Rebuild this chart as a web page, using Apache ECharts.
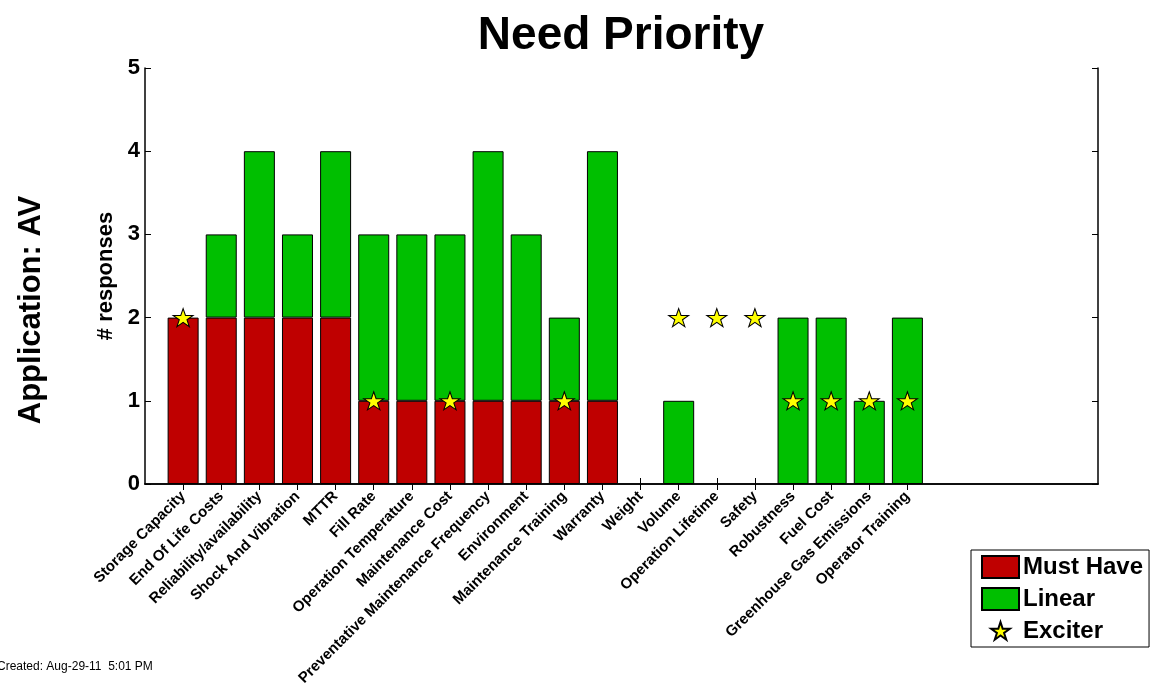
<!DOCTYPE html>
<html>
<head>
	<meta charset="UTF-8" />
	<title>Need Priority</title>
	<style type="text/css">
		* { margin: 0; padding: 0; }
		#main { width: 1152px; height: 687px; background: #fff; }
	</style>
</head>
<body>
	<div id="main"></div>
</body>
<script src="https://cdn.jsdelivr.net/npm/echarts@6/dist/echarts.min.js"></script>
<script type="text/javascript">
	// needs, in the order they are drawn on the x axis (positions 1..20, axis runs 0..25)
	var categories = ['Storage Capacity', 'End Of Life Costs', 'Reliability/availability', 'Shock And Vibration',
		'MTTR', 'Fill Rate', 'Operation Temperature', 'Maintenance Cost', 'Preventative Maintenance Frequency',
		'Environment', 'Maintenance Training', 'Warranty', 'Weight', 'Volume', 'Operation Lifetime', 'Safety',
		'Robustness', 'Fuel Cost', 'Greenhouse Gas Emissions', 'Operator Training']
	var mustHave = [2, 2, 2, 2, 2, 1, 1, 1, 1, 1, 1, 1, 0, 0, 0, 0, 0, 0, 0, 0]
	var linear = [0, 1, 2, 1, 2, 2, 2, 2, 3, 2, 1, 3, 0, 1, 0, 0, 2, 2, 1, 2]
	var exciter = [2, null, null, null, null, 1, null, 1, null, null, 1, null, null, 2, 2, 2, 1, 1, 1, 1]
	var yTicks = [0, 1, 2, 3, 4, 5]

	var font = '"Liberation Sans", Arial, sans-serif'
	var starShape = 'M50 0 L61.23 34.55 L97.55 34.55 L68.16 55.9 L79.39 90.45 L50 69.1 L20.61 90.45 L31.84 55.9 L2.45 34.55 L38.77 34.55 Z'
	var star = 'path://' + starShape
	// same star with some empty room round it, so the legend draws it a bit smaller
	var legendStar = 'path://M-8 -10 M108 102 ' + starShape

	// one empty slot before the first need and five after the last one
	var axisData = [''].concat(categories, ['', '', '', '', ''])
	function pad(arr) {
		return [null].concat(arr.map(function (v) { return v === 0 ? null : v }), [null, null, null, null, null])
	}
	function hasTick(i) { return i >= 1 && i <= categories.length }

	var myChart = echarts.init(document.getElementById('main'))

	var option = {
		backgroundColor: '#fff',
		animation: false,
		title: {
			text: 'Need Priority',
			left: 616,
			textAlign: 'center',
			top: 8,
			textStyle: { fontFamily: font, fontWeight: 'bold', fontSize: 46, color: '#000' }
		},
		grid: { left: 145, right: 54, top: 68, bottom: 203, outerBoundsMode: 'none', containLabel: false },
		legend: {
			orient: 'vertical',
			left: 971,
			top: 550,
			width: 160,
			itemWidth: 37,
			itemHeight: 22,
			itemGap: 8,
			padding: [5, 6, 4, 10],
			backgroundColor: '#fff',
			borderColor: '#000',
			borderWidth: 1,
			borderRadius: 0,
			textStyle: { fontFamily: font, fontWeight: 'bold', fontSize: 24, lineHeight: 22, color: '#000', padding: [0, 0, 0, -1] },
			data: [
				{ name: 'Must Have', icon: 'rect' },
				{ name: 'Linear', icon: 'rect' },
				{ name: 'Exciter', icon: legendStar }
			]
		},
		xAxis: [{
			type: 'category',
			data: axisData,
			boundaryGap: false,
			position: 'bottom',
			axisLine: { lineStyle: { color: '#000', width: 1.5 } },
			axisTick: { inside: true, length: 6, interval: hasTick, lineStyle: { color: '#000' } },
			axisLabel: {
				interval: 0,
				rotate: 45,
				margin: 10,
				fontFamily: font,
				fontWeight: 'bold',
				fontSize: 15,
				color: '#000'
			},
			splitLine: { show: false }
		}, {
			type: 'category',
			data: axisData,
			boundaryGap: false,
			position: 'top',
			axisLine: { lineStyle: { color: '#000', width: 1.5 } },
			axisTick: { inside: true, length: 6, interval: hasTick, lineStyle: { color: '#000' } },
			axisLabel: { show: false },
			splitLine: { show: false }
		}],
		yAxis: [{
			type: 'value',
			min: yTicks[0],
			max: yTicks[yTicks.length - 1],
			interval: 1,
			name: '# responses',
			nameLocation: 'middle',
			nameGap: 24,
			nameTextStyle: { fontFamily: font, fontWeight: 'bold', fontSize: 22, color: '#000' },
			axisLine: { show: true, lineStyle: { color: '#000', width: 1.5 } },
			axisTick: { show: true, inside: true, length: 6, lineStyle: { color: '#000' } },
			axisLabel: { margin: 5, fontFamily: font, fontWeight: 'bold', fontSize: 22, color: '#000' },
			splitLine: { show: false }
		}, {
			type: 'value',
			position: 'right',
			min: yTicks[0],
			max: yTicks[yTicks.length - 1],
			interval: 1,
			axisLine: { show: true, lineStyle: { color: '#000', width: 1.5 } },
			axisTick: { show: true, inside: true, length: 6, lineStyle: { color: '#000' } },
			axisLabel: { show: false },
			splitLine: { show: false }
		}],
		graphic: [{
			type: 'text',
			x: 31,
			y: 310,
			rotation: Math.PI / 2,
			style: {
				text: 'Application: AV',
				fontFamily: font,
				fontWeight: 'bold',
				fontSize: 31,
				fill: '#000',
				align: 'center',
				verticalAlign: 'middle'
			}
		}, {
			type: 'text',
			x: -3,
			y: 667,
			style: {
				text: 'Created: Aug-29-11  5:01 PM',
				fontFamily: font,
				fontSize: 12,
				fill: '#000',
				verticalAlign: 'middle'
			}
		}],
		series: [{
			name: 'Must Have',
			type: 'bar',
			stack: 'need',
			barWidth: 31,
			data: pad(mustHave),
			itemStyle: { color: '#bf0000', borderColor: '#000', borderWidth: 1 }
		}, {
			name: 'Linear',
			type: 'bar',
			stack: 'need',
			barWidth: 31,
			data: pad(linear),
			itemStyle: { color: '#00bf00', borderColor: '#000', borderWidth: 1 }
		}, {
			name: 'Exciter',
			type: 'scatter',
			symbol: star,
			symbolSize: [20, 19],
			symbolKeepAspect: true,
			z: 5,
			data: [null].concat(exciter, [null, null, null, null, null]),
			itemStyle: { color: '#ffff00', borderColor: '#000', borderWidth: 1, opacity: 1 }
		}]
	}
	myChart.setOption(option)
</script>
</html>
